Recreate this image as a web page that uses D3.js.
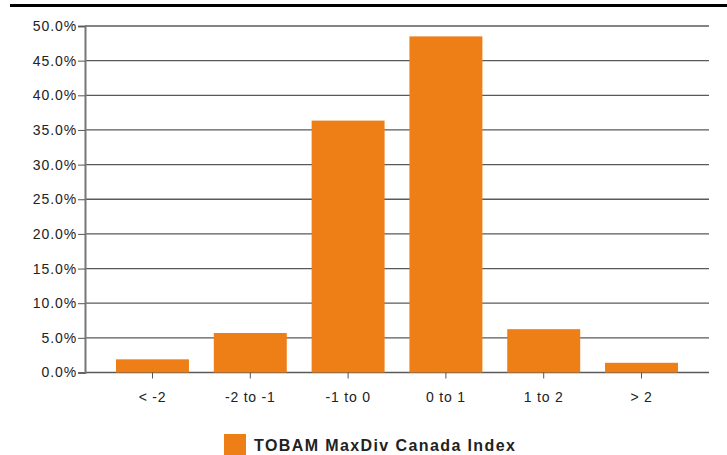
<!DOCTYPE html>
<html>
<head>
<meta charset="utf-8">
<script src="https://cdn.jsdelivr.net/npm/d3@7"></script>
<style>
  body { margin: 0; background: #fff; }
  text { font-family: "Liberation Sans", Arial, sans-serif; fill: #222; }
</style>
</head>
<body>
<script>
var categories = ["< -2", "-2 to -1", "-1 to 0", "0 to 1", "1 to 2", "> 2"];
var values = [1.9, 5.7, 36.35, 48.5, 6.25, 1.4];
var yTicks = [0, 5, 10, 15, 20, 25, 30, 35, 40, 45, 50];
var seriesName = "TOBAM MaxDiv Canada Index";

var width = 727, height = 455;
var plotLeft = 85, plotRight = 709, plotTop = 26, plotBottom = 372.5;

var svg = d3.select("body").append("svg")
    .attr("width", width)
    .attr("height", height);

// thick rule at the top
svg.append("line")
    .attr("x1", 10).attr("x2", width)
    .attr("y1", 5.5).attr("y2", 5.5)
    .attr("stroke", "#000")
    .attr("stroke-width", 3);

var x = d3.scaleBand()
    .domain(categories)
    .range([plotLeft, plotRight])
    .paddingInner(0.254)
    .paddingOuter(0.317);

var y = d3.scaleLinear()
    .domain([0, 50])
    .range([plotBottom, plotTop]);

// gridlines
svg.append("g")
    .selectAll("line")
    .data(yTicks)
    .enter()
    .append("line")
    .attr("x1", plotLeft).attr("x2", plotRight)
    .attr("y1", function(d) { return y(d); })
    .attr("y2", function(d) { return y(d); })
    .attr("stroke", "#5a5a5a")
    .attr("stroke-width", 1.3);

// y axis
var yAxis = svg.append("g")
    .attr("transform", "translate(" + plotLeft + ",0)")
    .call(d3.axisLeft(y).tickValues(yTicks).tickSize(7).tickPadding(1)
        .tickFormat(function(d) { return d.toFixed(1) + "%"; }));
yAxis.select(".domain").attr("stroke", "#777").attr("stroke-width", 2);
yAxis.selectAll(".tick line").attr("stroke", "#555");
yAxis.selectAll("text")
    .style("font-size", "14px")
    .style("letter-spacing", "0.9px")
    .style("font-family", "Liberation Sans, Arial, sans-serif")
    .attr("fill", "#222");

// bars
svg.append("g")
    .selectAll("rect")
    .data(values)
    .enter()
    .append("rect")
    .attr("x", function(d, i) { return x(categories[i]); })
    .attr("y", function(d) { return y(d); })
    .attr("width", x.bandwidth())
    .attr("height", function(d) { return y(0) - y(d); })
    .attr("fill", "#ee7f16");

// x axis
var xAxis = svg.append("g")
    .attr("transform", "translate(0," + plotBottom + ")")
    .call(d3.axisBottom(x).tickSize(6).tickPadding(14));
xAxis.select(".domain").remove();
xAxis.selectAll(".tick line").attr("stroke", "#555");
xAxis.selectAll("text")
    .style("font-size", "14px")
    .style("letter-spacing", "0.8px")
    .style("font-family", "Liberation Sans, Arial, sans-serif")
    .attr("fill", "#222");

// legend
var legend = svg.append("g");
legend.append("rect")
    .attr("x", 224).attr("y", 434)
    .attr("width", 22).attr("height", 22)
    .attr("fill", "#ee7f16");
legend.append("text")
    .attr("x", 254).attr("y", 451)
    .style("font-size", "16px")
    .style("font-weight", "bold")
    .style("letter-spacing", "1.4px")
    .attr("fill", "#111")
    .text(seriesName);
</script>
</body>
</html>
